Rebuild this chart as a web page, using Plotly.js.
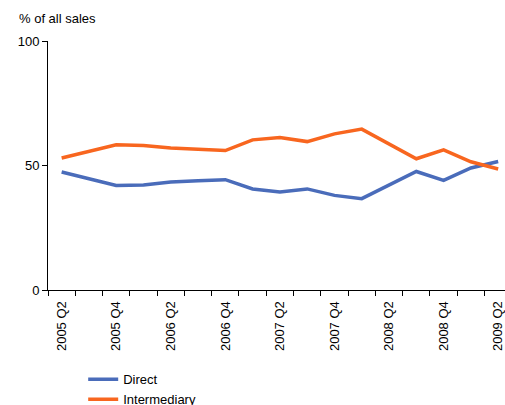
<!DOCTYPE html>
<html>
<head>
<meta charset="utf-8">
<script src="https://cdn.plot.ly/plotly-3.0.1.min.js"></script>
<style>html,body{margin:0;padding:0;background:#fff;}#chart{width:505px;height:405px;}</style>
</head>
<body>
<div id="chart"></div>
<script>
const quarters = ["2005 Q2","2005 Q3","2005 Q4","2006 Q1","2006 Q2","2006 Q3","2006 Q4","2007 Q1","2007 Q2","2007 Q3","2007 Q4","2008 Q1","2008 Q2","2008 Q3","2008 Q4","2009 Q1","2009 Q2"];
const tickLabels = ["2005 Q2","2005 Q4","2006 Q2","2006 Q4","2007 Q2","2007 Q4","2008 Q2","2008 Q4","2009 Q2"];
const direct = [47.4, 44.7, 42.0, 42.2, 43.4, 43.9, 44.3, 40.6, 39.4, 40.6, 38.0, 36.7, 42.1, 47.6, 44.0, 49.0, 51.6];
const intermediary = [53.0, 55.6, 58.3, 58.0, 57.0, 56.5, 56.0, 60.3, 61.2, 59.6, 62.7, 64.6, 58.6, 52.7, 56.3, 51.5, 48.6];
const yTicks = [0, 50, 100];

const xIdx = quarters.map((q, i) => i);
const labelIdx = tickLabels.map(l => quarters.indexOf(l));
const boundaries = quarters.map((q, i) => i - 0.5).concat([quarters.length - 0.5]);

const font = {family: "Liberation Sans, Arial, sans-serif", size: 13, color: "#000"};

const traces = [
  {x: xIdx, y: direct, name: "Direct", type: "scatter", mode: "lines",
   line: {color: "#4a6cba", width: 3.5}},
  {x: xIdx, y: intermediary, name: "Intermediary", type: "scatter", mode: "lines",
   line: {color: "#f8661f", width: 3.5}}
];

const layout = {
  width: 505, height: 405,
  margin: {l: 47.7, r: 0, t: 41, b: 114.5, pad: 0, autoexpand: false},
  paper_bgcolor: "#fff", plot_bgcolor: "#fff",
  font: font,
  showlegend: true,
  title: {text: "% of all sales", font: {family: font.family, size: 13, color: "#000"},
          xref: "container", yref: "container", x: 19/505, xanchor: "left",
          y: 1 - 18/405, yanchor: "middle", automargin: false},
  xaxis: {
    type: "linear", range: [-0.5, 16.25], showgrid: false, zeroline: false,
    automargin: false, ticklabeloverflow: "allow", ticklabelstandoff: 5,
    showline: true, linecolor: "#000", linewidth: 1,
    tickmode: "array", tickvals: labelIdx, ticktext: tickLabels,
    ticks: "", tickangle: -90, tickfont: font,
    minor: {tickmode: "array", tickvals: boundaries, ticks: "outside", ticklen: 5, tickcolor: "#000", showgrid: false}
  },
  yaxis: {
    range: [0, 100], showgrid: false, zeroline: false, automargin: false,
    showline: true, linecolor: "#000", linewidth: 1,
    tickmode: "array", tickvals: yTicks, ticktext: yTicks.map(String),
    ticks: "outside", ticklen: 5, tickcolor: "#000", tickfont: font
  },
  legend: {x: 0.077, xanchor: "left", y: -0.2986, yanchor: "top", orientation: "v",
           font: font, bgcolor: "rgba(0,0,0,0)", tracegroupgap: 0, itemwidth: 30}
};

Plotly.newPlot("chart", traces, layout, {displayModeBar: false, staticPlot: true});
</script>
</body>
</html>
